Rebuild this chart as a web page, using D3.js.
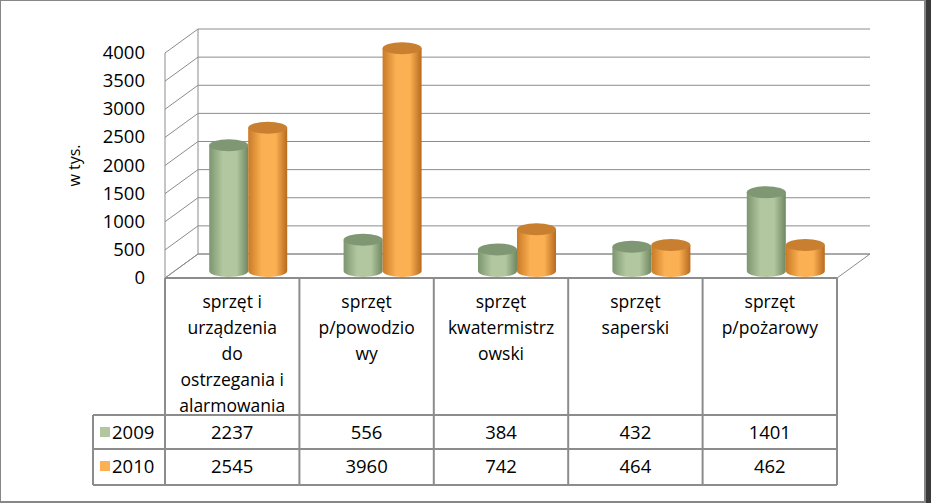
<!DOCTYPE html>
<html><head><meta charset="utf-8">
<script src="https://cdn.jsdelivr.net/npm/d3@7"></script>
<style>body{margin:0;background:#3a3a3a}svg{display:block}</style>
</head><body>
<script>
const categories=[["sprzęt i","urządzenia","do","ostrzegania i","alarmowania"],["sprzęt","p/powodzio","wy"],["sprzęt","kwatermistrz","owski"],["sprzęt","saperski"],["sprzęt","p/pożarowy"]];
const series=["2009","2010"];
const v2009=[2237,556,384,432,1401];
const v2010=[2545,3960,742,464,462];
const ticks=[0,500,1000,1500,2000,2500,3000,3500,4000];
const colors={"2009":["#7d9670","#b2c79f","#6f8762"],"2010":["#c97a26","#fbb153","#b86a1e"]};
const tops={"2009":"#7f9873","2010":"#c87f30"};

const W=931,H=503;
const svg=d3.select("body").append("svg").attr("width",W).attr("height",H);
svg.append("rect").attr("x",0).attr("y",0).attr("width",925).attr("height",502).attr("fill","#fff").attr("stroke","#878787").attr("stroke-width",2);
const font="'Open Sans',sans-serif";
const fs=18.5;
const x0=165,x1=837,dx=33,dy=-24;
const x=d3.scaleBand().domain(d3.range(5)).range([x0,x1]);
const y=d3.scaleLinear().domain([0,4000]).range([278,53]);
const gray="#8c8c8c";
ticks.forEach(t=>{
  svg.append("line").attr("x1",x0+dx).attr("x2",x1+dx).attr("y1",y(t)+dy).attr("y2",y(t)+dy).attr("stroke",gray);
  svg.append("line").attr("x1",x0).attr("x2",x0+dx).attr("y1",y(t)).attr("y2",y(t)+dy).attr("stroke",gray);
  svg.append("text").attr("x",x0-20).attr("y",y(t)+6).attr("text-anchor","end").attr("font-family",font).attr("font-size",fs).attr("fill","#000").text(t);
});
svg.append("line").attr("x1",x0).attr("x2",x0).attr("y1",y(0)).attr("y2",y(4000)).attr("stroke",gray);
svg.append("line").attr("x1",x0+dx).attr("x2",x0+dx).attr("y1",y(0)+dy).attr("y2",y(4000)+dy).attr("stroke",gray);
svg.append("path").attr("d",`M${x0},${y(0)}L${x1},${y(0)}L${x1+dx},${y(0)+dy}L${x0+dx},${y(0)+dy}Z`).attr("fill","none").attr("stroke",gray);
svg.append("text").attr("transform",`translate(80,${y(2000)}) rotate(-90)`).attr("text-anchor","middle").attr("font-family",font).attr("font-size",16).text("w tys.");

const defs=svg.append("defs");
series.forEach(s=>{
  const g=defs.append("linearGradient").attr("id","g"+s).attr("x1",0).attr("x2",1).attr("y1",0).attr("y2",0);
  g.append("stop").attr("offset","0").attr("stop-color",colors[s][0]);
  g.append("stop").attr("offset","0.35").attr("stop-color",colors[s][1]);
  g.append("stop").attr("offset","0.7").attr("stop-color",colors[s][1]);
  g.append("stop").attr("offset","1").attr("stop-color",colors[s][2]);
});
const by=d3.scaleLinear().domain([0,4000]).range([271,46]);
const bw=39,ry=6;
series.forEach((s,si)=>{
  const vals=si===0?v2009:v2010;
  vals.forEach((v,i)=>{
    const cx=x(i)+x.bandwidth()/2+dx/2+(si===0?-20:19);
    const yt=by(v),yb=by(0);
    svg.append("path").attr("d",`M${cx-bw/2},${yt}L${cx-bw/2},${yb}A${bw/2},${ry} 0 0 0 ${cx+bw/2},${yb}L${cx+bw/2},${yt}Z`).attr("fill",`url(#g${s})`);
    svg.append("ellipse").attr("cx",cx).attr("cy",yt).attr("rx",bw/2).attr("ry",ry).attr("fill",tops[s]);
  });
});

const tb=y(0),r1=415,r2=449,r3=485,lx=93;
const L=(a,b,c,d)=>svg.append("line").attr("x1",a).attr("y1",b).attr("x2",c).attr("y2",d).attr("stroke",gray).attr("stroke-width",2);
L(x0,tb,x1,tb);
[0,1,2,3,4,5].forEach(i=>{const xx=i<5?x(i):x1;L(xx,tb,xx,r3);});
L(lx,r1,x1,r1);L(lx,r2,x1,r2);L(lx,r3,x1,r3);L(lx,r1,lx,r3);
categories.forEach((c,i)=>{
  c.forEach((ln,j)=>svg.append("text").attr("x",x(i)+x.bandwidth()/2).attr("y",tb+30+j*26).attr("text-anchor","middle").attr("font-family",font).attr("font-size",17.5).text(ln));
});
series.forEach((s,si)=>{
  const vals=si===0?v2009:v2010;
  const ry0=si===0?r1:r2;
  svg.append("rect").attr("x",lx+7).attr("y",ry0+12).attr("width",10).attr("height",10).attr("fill",colors[s][1]);
  svg.append("text").attr("x",lx+19).attr("y",ry0+24).attr("font-family",font).attr("font-size",fs).text(s);
  vals.forEach((v,i)=>svg.append("text").attr("x",x(i)+x.bandwidth()/2).attr("y",ry0+24).attr("text-anchor","middle").attr("font-family",font).attr("font-size",fs).text(v));
});
</script>
</body></html>
